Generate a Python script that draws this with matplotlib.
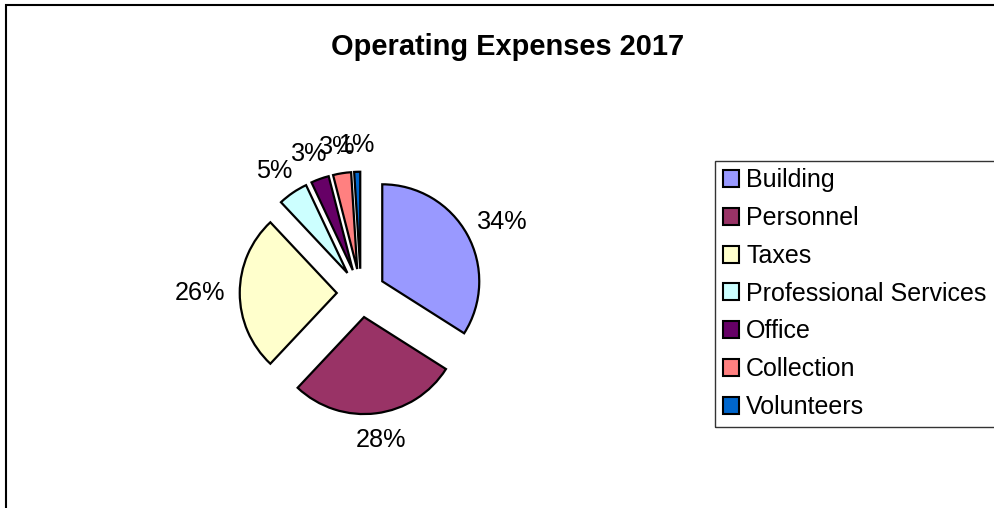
import numpy as np
import matplotlib
matplotlib.use("Agg")
import matplotlib.pyplot as plt
from matplotlib.patches import Rectangle

plt.rcParams['font.family'] = ['Liberation Sans', 'DejaVu Sans']

categories = ["Building", "Personnel", "Taxes", "Professional Services",
              "Office", "Collection", "Volunteers"]
values = [34, 28, 26, 5, 3, 3, 1]
pct_labels = ["34%", "28%", "26%", "5%", "3%", "3%", "1%"]
colors = ["#9999FF", "#993366", "#FFFFCC", "#CCFFFF", "#660066", "#FF8080", "#0066CC"]
title = "Operating Expenses 2017"

W, H, DPI = 995, 508, 100
fig = plt.figure(figsize=(W / DPI, H / DPI), dpi=DPI)

# outer chart-area border (right/bottom sides clipped in reference)
fig.patches.append(Rectangle((6.5 / W, -0.2), 1.5, 1 - 4.5 / H + 0.2,
                             transform=fig.transFigure, fill=False,
                             edgecolor="black", linewidth=1.5, clip_on=False))

# pie axes: center (361, 293) px, radius 97 px
cx, cy, R = 361, 293, 97
span = 2.2
ax = fig.add_axes([(cx - span * R) / W, (H - cy - span * R) / H,
                   2 * span * R / W, 2 * span * R / H])
explode = [0.25] * len(values)
wedges, _ = ax.pie(values, colors=colors, explode=explode, startangle=90,
                   counterclock=False, radius=1.0,
                   wedgeprops=dict(edgecolor="black", linewidth=1.6))
ax.set_xlim(-span, span)
ax.set_ylim(-span, span)
ax.set_aspect("auto")
ax.axis("off")

fig.text(508 / W, 1 - 55 / H, title, fontsize=20.9, fontweight="bold",
         ha="center", va="baseline")

leg = fig.legend(wedges, categories, loc="upper left",
                 bbox_to_anchor=(715 / W, 1 - 160.7 / H),
                 bbox_transform=fig.transFigure, borderaxespad=0,
                 fontsize=18, frameon=False,
                 handlelength=0.67, handleheight=0.67, handletextpad=0.27,
                 labelspacing=0.55, borderpad=0.31)
for h in leg.legend_handles:
    h.set_linewidth(1.5)
    h.set_edgecolor("black")

# percentage labels placed outside each wedge
fig.canvas.draw()
renderer = fig.canvas.get_renderer()
label_r = 1.40
for w, txt in zip(wedges, pct_labels):
    ang = np.deg2rad((w.theta1 + w.theta2) / 2)
    c, s = np.cos(ang), np.sin(ang)
    t = ax.text(label_r * c, label_r * s, txt, fontsize=18.2,
                ha="center", va="center")
    bb = t.get_window_extent(renderer)
    dx = (bb.width / 2 * c) / R
    dy = (bb.height / 2 * s) / R
    t.set_position((label_r * c + dx, label_r * s + dy))

# legend frame, running off the right edge as in the reference
lb = leg.get_window_extent(renderer)
fig.patches.append(Rectangle((lb.x0 / W, lb.y0 / H), 1.0, (lb.y1 - lb.y0) / H,
                             transform=fig.transFigure, fill=False,
                             edgecolor="#333333", linewidth=1.0, clip_on=False,
                             zorder=0))

fig.savefig("out.png", dpi=DPI)
